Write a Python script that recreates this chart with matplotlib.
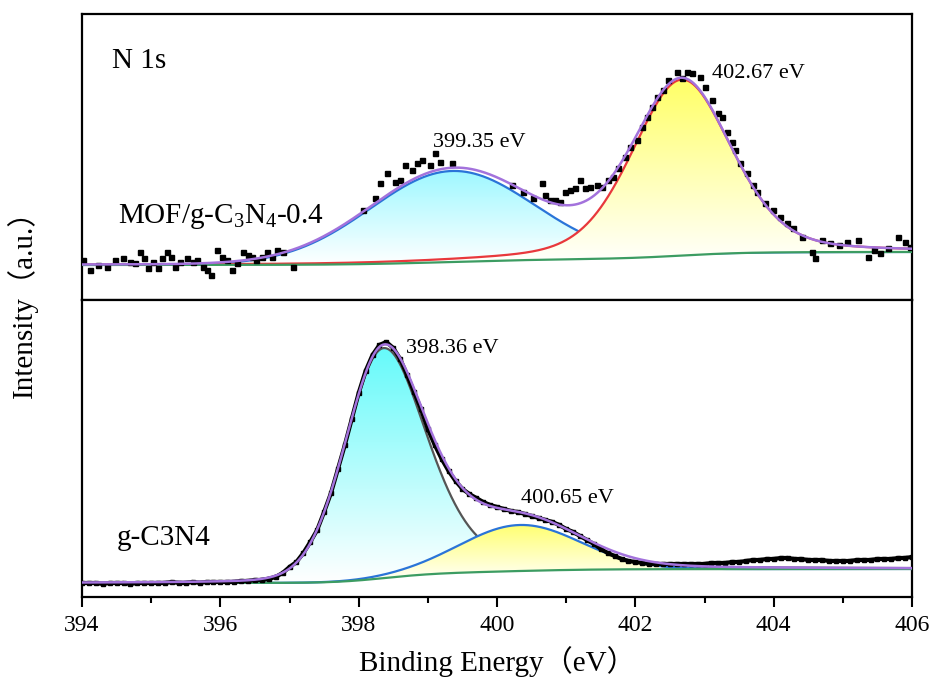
import numpy as np
import matplotlib.pyplot as plt
from matplotlib.colors import to_rgb
from matplotlib.patches import Polygon

plt.rcParams['font.family'] = ['Liberation Serif', 'Noto Sans CJK SC']
plt.rcParams['mathtext.fontset'] = 'custom'
plt.rcParams['mathtext.rm'] = 'Liberation Serif'
plt.rcParams['mathtext.it'] = 'Liberation Serif:italic'

# MOF/g-C3N4-0.4 raw points (binding energy, intensity a.u.)
mof_x = [394.02, 394.12, 394.23, 394.36, 394.48, 394.59, 394.69, 394.77, 394.84, 394.90,
         394.96, 395.03, 395.10, 395.16, 395.23, 395.29, 395.35, 395.42, 395.52, 395.60,
         395.66, 395.75, 395.81, 395.87, 395.95, 396.02, 396.10, 396.17, 396.24, 396.33,
         396.40, 396.46, 396.52, 396.60, 396.67, 396.75, 396.82, 396.91, 397.05,
         398.06, 398.24, 398.31, 398.41, 398.53, 398.60, 398.67, 398.77, 398.84, 398.92,
         399.03, 399.10, 399.18, 399.35, 400.22, 400.38, 400.52, 400.65, 400.70, 400.77,
         400.84, 400.91, 400.98, 401.06, 401.13, 401.20, 401.27, 401.34, 401.45, 401.52,
         401.60, 401.68, 401.75, 401.85, 401.92, 402.02, 402.10, 402.17, 402.24, 402.31,
         402.40, 402.47, 402.60, 402.67, 402.75, 402.82, 402.93, 403.01, 403.11, 403.19,
         403.25, 403.32, 403.40, 403.44, 403.51, 403.61, 403.70, 403.76, 403.87, 403.99,
         404.09, 404.19, 404.28, 404.41, 404.55, 404.60, 404.70, 404.82, 404.94, 405.06,
         405.22, 405.36, 405.45, 405.54, 405.66, 405.80, 405.90, 405.97]
mof_y = [40, 30, 35, 33, 40, 42, 38, 37, 48, 42,
         32, 38, 32, 42, 48, 43, 33, 38, 42, 38,
         40, 33, 30, 25, 50, 43, 40, 30, 37, 48,
         45, 43, 40, 43, 48, 43, 50, 48, 33,
         90, 102, 117, 127, 118, 120, 135, 130, 137, 140,
         135, 147, 138, 137, 115, 108, 102, 117, 105, 100,
         100, 98, 108, 110, 112, 120, 112, 113, 115, 113,
         120, 123, 132, 143, 153, 160, 173, 183, 193, 203,
         210, 220, 228, 222, 228, 227, 223, 213, 200, 187,
         183, 168, 158, 150, 137, 127, 115, 108, 97, 90,
         83, 77, 72, 63, 48, 42, 60, 57, 55, 58,
         60, 43, 50, 47, 52, 63, 58, 53]

# g-C3N4 raw points, every 0.1 eV from 394.0 to 406.0
cn_x = np.round(np.arange(394.0, 406.05, 0.1), 2)
cn_y = [14, 14, 14, 13, 14, 14, 14, 13, 14, 14,
        14, 14, 14, 15, 14, 14, 15, 14, 15, 15,
        15, 15, 15, 16, 16, 17, 17, 18, 20, 24,
        30, 35, 44, 55, 67, 85, 104, 128, 152, 178,
        204, 226, 242, 252, 255, 249, 238, 222, 205, 188,
        168, 152, 138, 126, 116, 108, 103, 99, 95, 92,
        90, 88, 86, 85, 83, 81, 79, 77, 75, 72,
        68, 65, 61, 57, 53, 48, 44, 41, 38, 36,
        35, 34, 33, 33, 33, 33, 33, 33, 33, 33,
        33, 34, 34, 34, 35, 35, 36, 37, 37, 38,
        38, 39, 39, 38, 38, 37, 37, 37, 36, 36,
        36, 36, 37, 37, 37, 38, 38, 38, 39, 39,
        40]

# fitted peak parameters: center, height, fwhm (left, right), lorentz fraction (left, right)
mof_center = [399.35, 402.67]
mof_height = [91, 176]
mof_fwhm = [(2.8, 2.8), (1.7, 1.7)]
mof_eta = [(0.0, 0.0), (0.3, 0.3)]
mof_bg = (35, 48)
mof_labels = ['399.35 eV', '402.67 eV']

cn_center = [398.36, 400.33]
cn_height = [230, 46]
cn_fwhm = [(1.3, 1.5), (2.05, 2.05)]
cn_eta = [(0.1, 0.4), (0.0, 0.0)]
cn_bg = (14, 28)
cn_labels = ['398.36 eV', '400.65 eV']

x_fit = np.linspace(394, 406, 1201)


def peak(x, c, h, w, eta):
    wl, wr = w
    el, er = eta
    wv = np.where(x < c, wl, wr)
    ev = np.where(x < c, el, er)
    g = np.exp(-4 * np.log(2) * (x - c) ** 2 / wv ** 2)
    l = 1 / (1 + 4 * (x - c) ** 2 / wv ** 2)
    return h * ((1 - ev) * g + ev * l)


def shirley(x, comps, bg):
    tot = np.sum(comps, axis=0)
    cum = np.concatenate([[0], np.cumsum((tot[1:] + tot[:-1]) / 2 * np.diff(x))])
    return bg[0] + (bg[1] - bg[0]) * cum / cum[-1]


def grad_fill(ax, x, y0, y1, color, z):
    verts = np.column_stack([np.r_[x, x[::-1]], np.r_[y1, y0[::-1]]])
    patch = Polygon(verts, closed=True, facecolor='none', edgecolor='none')
    ax.add_patch(patch)
    t = np.linspace(0, 1, 256)[:, None]
    img = (1 - t) * np.ones(3) + t * np.array(to_rgb(color))
    im = ax.imshow(img[:, None, :], extent=[x.min(), x.max(), y0.min(), y1.max()],
                   origin='lower', aspect='auto', zorder=z, interpolation='bilinear')
    im.set_clip_path(patch)


fig = plt.figure(figsize=(9.33, 6.88), dpi=100)
ax1 = fig.add_axes([0.0879, 0.5640, 0.8896, 0.4157])
ax2 = fig.add_axes([0.0879, 0.1323, 0.8896, 0.4317])

purple = '#a372dc'
green = '#3c9c62'

# ---- top panel: MOF/g-C3N4-0.4
comps = [peak(x_fit, c, h, w, e) for c, h, w, e in zip(mof_center, mof_height, mof_fwhm, mof_eta)]
bg = shirley(x_fit, comps, mof_bg)
grad_fill(ax1, x_fit, bg, bg + comps[0], '#9ef8ff', 1)
ax1.plot(x_fit, bg + comps[0], color='#2a74d8', lw=1.6, zorder=2)
grad_fill(ax1, x_fit, bg, bg + comps[1], '#ffff66', 3)
ax1.plot(x_fit, bg + comps[1], color='#e8383c', lw=1.6, zorder=4)
ax1.plot(x_fit, bg, color=green, lw=1.6, zorder=5)
ax1.plot(mof_x, mof_y, 's', color='black', ms=3.6, zorder=6)
ax1.plot(x_fit, bg + comps[0] + comps[1], color=purple, lw=1.8, zorder=7)

# ---- bottom panel: g-C3N4
comps2 = [peak(x_fit, c, h, w, e) for c, h, w, e in zip(cn_center, cn_height, cn_fwhm, cn_eta)]
bg2 = shirley(x_fit, comps2, cn_bg)
grad_fill(ax2, x_fit, bg2, bg2 + comps2[0], '#66fafa', 1)
ax2.plot(x_fit, bg2 + comps2[0], color='#555555', lw=1.6, zorder=2)
grad_fill(ax2, x_fit, bg2, bg2 + comps2[1], '#ffff70', 3)
ax2.plot(x_fit, bg2 + comps2[1], color='#2a74d8', lw=1.6, zorder=4)
ax2.plot(x_fit, bg2, color=green, lw=1.6, zorder=5)
ax2.plot(cn_x, cn_y, '-s', color='black', lw=3, ms=3, zorder=6)
ax2.plot(x_fit, bg2 + comps2[0] + comps2[1], color=purple, lw=1.8, zorder=7)

# labels
ax1.text(394.43, 232, 'N 1s', fontsize=21, va='baseline')
ax1.text(394.52, 77, r'MOF/g-C$_\mathrm{3}$N$_\mathrm{4}$-0.4', fontsize=21, va='baseline')
ax1.text(399.07, 153, mof_labels[0], fontsize=16, va='baseline')
ax1.text(403.11, 222, mof_labels[1], fontsize=16, va='baseline')
ax2.text(394.5, 52, 'g-C3N4', fontsize=21, va='baseline')
ax2.text(398.68, 244, cn_labels[0], fontsize=16, va='baseline')
ax2.text(400.35, 94, cn_labels[1], fontsize=16, va='baseline')

for ax, top in [(ax1, 286), (ax2, 297)]:
    ax.set_xlim(394, 406)
    ax.set_ylim(0, top)
    ax.set_yticks([])
    for s in ax.spines.values():
        s.set_linewidth(1.6)

ax1.set_xticks([])
ax2.set_xticks(np.arange(394, 407, 2))
ax2.set_xticks(np.arange(394, 407, 1), minor=True)
ax2.tick_params(axis='x', which='major', direction='out', length=7, width=1.5,
                labelsize=17, pad=6)
ax2.tick_params(axis='x', which='minor', direction='out', length=4, width=1.5)

fig.text(0.5327, 1 - 662 / 688, 'Binding Energy（eV）', fontsize=21, ha='center', va='center')
fig.text(22 / 933, 1 - 297 / 688, 'Intensity（a.u.）', fontsize=21, ha='center', va='center',
         rotation=90)

fig.savefig('out.png', dpi=100)
